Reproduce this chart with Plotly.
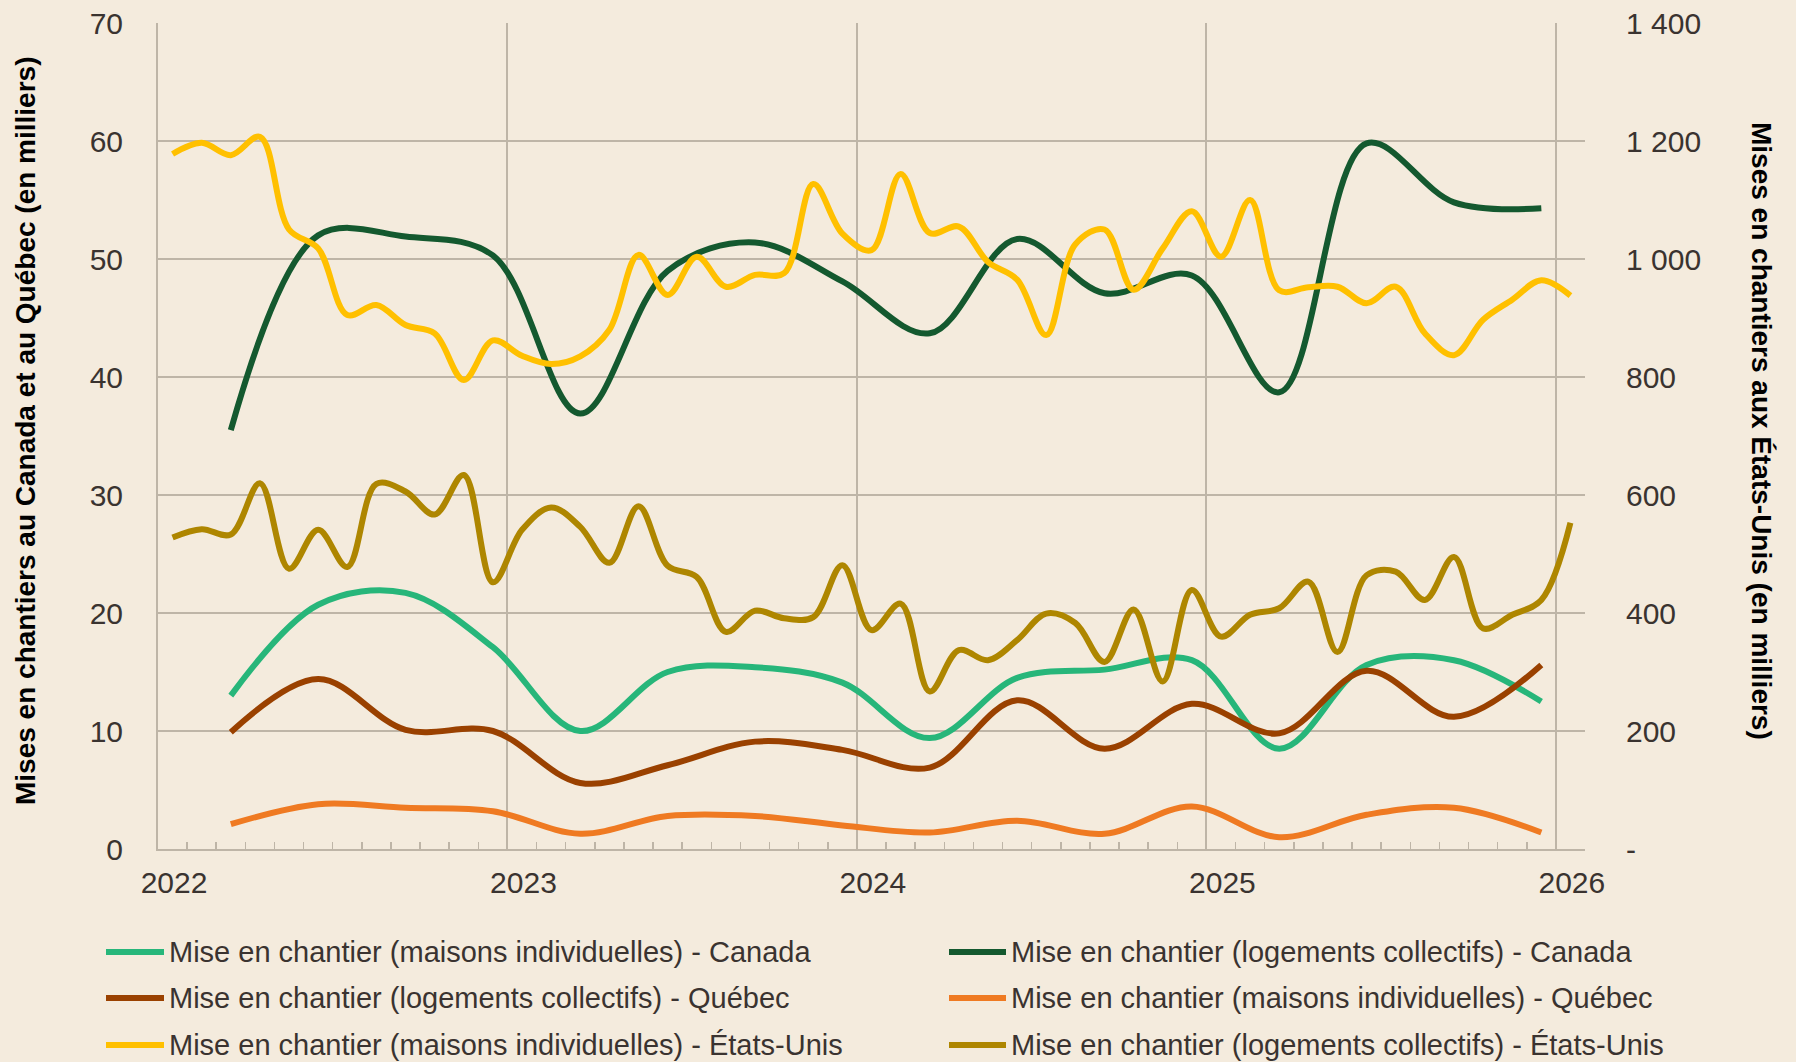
import plotly.graph_objects as go

# ---------------- data ----------------
months = [f"{y}-{m:02d}" for y in range(2022, 2026) for m in range(1, 13)] + ["2026-01"]
quarters = [f"{y}-{m:02d}" for y in range(2022, 2026) for m in (3, 6, 9, 12)]
year_labels = ["2022", "2023", "2024", "2025", "2026"]
year_starts = ["2022-01", "2023-01", "2024-01", "2025-01", "2026-01"]

# Canada / Québec (quarterly, thousands)
canada_single = [13.0, 20.7, 21.7, 17.1, 10.0, 15.0, 15.4, 14.1, 9.4, 14.5, 15.2, 16.0, 8.5, 15.6, 16.0, 12.5]
canada_multi = [35.5, 52.0, 51.9, 50.3, 36.9, 49.0, 51.4, 48.1, 43.7, 51.7, 47.1, 48.6, 38.7, 59.8, 54.8, 54.3]
quebec_multi = [9.9, 14.4, 10.1, 10.0, 5.6, 7.1, 9.1, 8.4, 6.9, 12.6, 8.5, 12.3, 9.8, 15.1, 11.2, 15.6]
quebec_single = [2.1, 3.8, 3.5, 3.2, 1.3, 2.8, 2.8, 2.0, 1.4, 2.4, 1.3, 3.6, 1.0, 2.9, 3.5, 1.4]

# États-Unis (monthly, thousands, right axis)
us_single = [1178, 1197, 1176, 1207, 1050, 1018, 905, 922, 888, 874, 795, 862,
             836, 822, 835, 880, 1007, 939, 1004, 953, 973, 976, 1127, 1043,
             1015, 1144, 1044, 1055, 995, 965, 871, 1025, 1050, 948, 1018, 1081,
             1004, 1100, 947, 952, 953, 925, 953, 874, 837, 897, 931, 964, 938]
us_multi = [528, 542, 533, 620, 475, 541, 478, 619, 606, 567, 634, 452,
            541, 579, 546, 485, 581, 480, 461, 368, 404, 391, 393, 481,
            371, 416, 267, 337, 320, 354, 399, 383, 317, 406, 284, 439,
            360, 397, 408, 453, 334, 464, 470, 422, 495, 374, 397, 422, 553]

right_ticks = [0, 200, 400, 600, 800, 1000, 1200, 1400]
right_tick_text = ["-", "200", "400", "600", "800", "1 000", "1 200", "1 400"]

names = [
    "Mise en chantier (maisons individuelles) - Canada",
    "Mise en chantier (logements collectifs) - Canada",
    "Mise en chantier (logements collectifs) - Québec",
    "Mise en chantier (maisons individuelles) - Québec",
    "Mise en chantier (maisons individuelles) - États-Unis",
    "Mise en chantier (logements collectifs) - États-Unis",
]
colors = ["#27B67A", "#14592F", "#9A4100", "#EF7A22", "#FFC000", "#AE8600"]

# ---------------- layout geometry (pixels) ----------------
W, H = 1796, 1062
L, R, T, B = 158, 1585, 23, 849
PW, PH = R - L, B - T


def px2x(px):
    return (px - L) / PW


def px2y(py):
    return (B - py) / PH


def pos(labels):
    # centre of the month category
    return [months.index(l) + 0.5 for l in labels]


def edge(labels):
    return [months.index(l) for l in labels]


BG = "#F4EBDD"
GRID = "#BEB5A7"
TXT = "#3A3330"
FONT = "Liberation Sans, Arial, sans-serif"

fig = go.Figure()
series = [
    (quarters, canada_single, "y"),
    (quarters, canada_multi, "y"),
    (quarters, quebec_multi, "y"),
    (quarters, quebec_single, "y"),
    (months, us_single, "y2"),
    (months, us_multi, "y2"),
]
for (xs, ys, ax), name, col in zip(series, names, colors):
    fig.add_trace(go.Scatter(
        x=pos(xs[:len(ys)]), y=ys, name=name, yaxis=ax, mode="lines",
        line=dict(color=col, width=6, shape="spline", smoothing=1),
        hoverinfo="skip", showlegend=False,
    ))

# legend (two columns x three rows), drawn as swatches + text
col_x = [(106, 164), (949, 1006)]
row_y = [952, 998, 1045]
shapes = []
annotations = []
for k, (name, col) in enumerate(zip(names, colors)):
    r, c = divmod(k, 2)
    x0, x1 = col_x[c]
    yy = px2y(row_y[r])
    shapes.append(dict(type="line", xref="paper", yref="paper",
                       x0=px2x(x0), x1=px2x(x1), y0=yy, y1=yy,
                       line=dict(color=col, width=6)))
    annotations.append(dict(text=name, x=px2x(x1 + 3), y=yy, xref="paper", yref="paper",
                            xanchor="left", yanchor="middle", showarrow=False,
                            font=dict(size=29, color=TXT, family=FONT)))

annotations += [
    dict(text="Mises en chantiers au Canada et au Québec (en milliers)",
         x=px2x(25), y=px2y(431), xref="paper", yref="paper", textangle=-90,
         showarrow=False, xanchor="center", yanchor="middle",
         font=dict(size=28, color="#000000", family=FONT, weight="bold")),
    dict(text="Mises en chantiers aux États-Unis (en milliers)",
         x=px2x(1762), y=px2y(431), xref="paper", yref="paper", textangle=90,
         showarrow=False, xanchor="center", yanchor="middle",
         font=dict(size=28, color="#000000", family=FONT, weight="bold")),
]

fig.update_layout(
    width=W, height=H, autosize=False,
    margin=dict(l=L, r=W - R, t=T, b=H - B, pad=0, autoexpand=False),
    paper_bgcolor=BG, plot_bgcolor=BG,
    font=dict(family=FONT, size=30, color=TXT),
    showlegend=False,
    xaxis=dict(
        range=[0, 49], tickmode="array", tickvals=edge(year_starts), ticktext=year_labels,
        showgrid=True, gridcolor=GRID, gridwidth=2,
        showline=True, linecolor=GRID, linewidth=2,
        ticks="inside", ticklen=8, tickcolor=GRID, tickwidth=2,
        minor=dict(tickmode="linear", tick0=0, dtick=1, ticks="inside", ticklen=7,
                   tickcolor=GRID, tickwidth=1.5, showgrid=False),
        tickfont=dict(size=30, color=TXT), ticklabelshift=16, ticklabelstandoff=6,
        zeroline=False, automargin=False,
    ),
    yaxis=dict(
        range=[0, 70], dtick=10, showgrid=True, gridcolor=GRID, gridwidth=2,
        showline=True, linecolor=GRID, linewidth=2, ticks="",
        tickfont=dict(size=30, color=TXT), ticklabelstandoff=27, zeroline=False,
        automargin=False,
    ),
    yaxis2=dict(
        overlaying="y", side="right", range=[0, 1400], tickmode="array",
        tickvals=right_ticks, ticktext=right_tick_text, showgrid=False,
        showline=False, ticks="", tickfont=dict(size=30, color=TXT),
        ticklabelstandoff=40, zeroline=False, automargin=False,
    ),
    shapes=shapes,
    annotations=annotations,
)

fig.write_html("out.html", config={"displayModeBar": False, "staticPlot": True},
               post_script="document.body.style.margin='0';")
